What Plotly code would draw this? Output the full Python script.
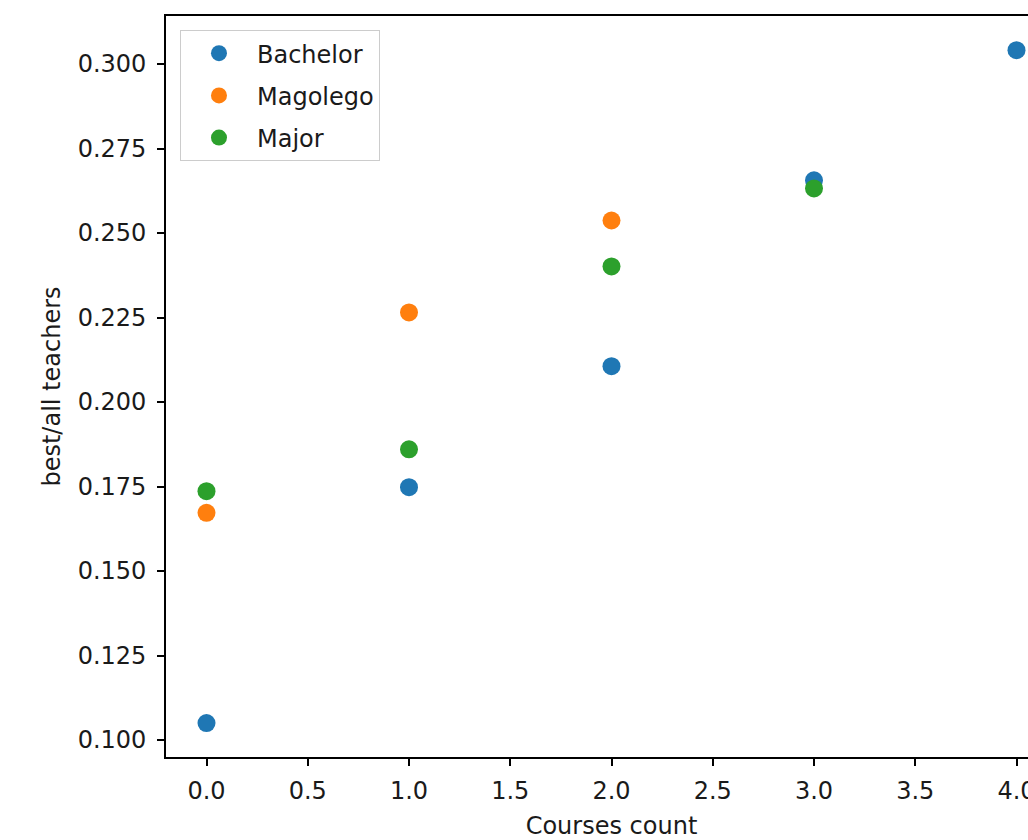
import plotly.graph_objects as go

courses = [0, 1, 2, 3, 4]
bachelor = [0.1050, 0.1748, 0.2106, 0.2656, 0.3041]
magolego_x = [0, 1, 2]
magolego = [0.1672, 0.2265, 0.2537]
major_x = [0, 1, 2, 3]
major = [0.1736, 0.1860, 0.2401, 0.2632]

colors = ["#1f77b4", "#ff7f0e", "#2ca02c"]
font = dict(family="DejaVu Sans", size=24, color="#1a1a1a")

fig = go.Figure()
series = [("Bachelor", courses, bachelor), ("Magolego", magolego_x, magolego), ("Major", major_x, major)]
for (name, xs, ys), c in zip(series, colors):
    fig.add_trace(go.Scatter(x=xs, y=ys, mode="markers", name=name, legendgroup=name,
                             marker=dict(color=c, size=18, line=dict(width=0)), cliponaxis=False))

axis_common = dict(showgrid=False, zeroline=False, showline=True, linecolor="black", linewidth=1.6,
                   ticks="outside", ticklen=7, tickwidth=1.6, tickcolor="black", tickfont=font,
                   mirror=True)
fig.update_layout(
    width=1062, height=840,
    margin=dict(l=166, r=3, t=16, b=83),
    paper_bgcolor="white", plot_bgcolor="white",
    font=font,
    xaxis=dict(range=[-0.2, 4.2], tickvals=[0, 0.5, 1, 1.5, 2, 2.5, 3, 3.5, 4],
               ticktext=["0.0", "0.5", "1.0", "1.5", "2.0", "2.5", "3.0", "3.5", "4.0"],
               ticklabelstandoff=4,
               title=dict(text="Courses count", font=font, standoff=16), **axis_common),
    yaxis=dict(range=[0.09497, 0.3142], tickvals=[0.1, 0.125, 0.15, 0.175, 0.2, 0.225, 0.25, 0.275, 0.3],
               tickformat=".3f", ticklabelstandoff=6,
               title=dict(text="best/all teachers", font=font, standoff=10), **axis_common),
    legend=dict(x=0.0157, y=0.981, xanchor="left", yanchor="top", bgcolor="rgba(255,255,255,0.8)",
                bordercolor="#cccccc", borderwidth=1, font=font, traceorder="grouped",
                tracegroupgap=8, itemwidth=66),
    showlegend=True,
)

fig.write_html("out.html", config={"displayModeBar": False},
               post_script="document.documentElement.style.overflow='hidden';"
                           "document.body.style.margin='0';document.body.style.overflow='hidden';")
